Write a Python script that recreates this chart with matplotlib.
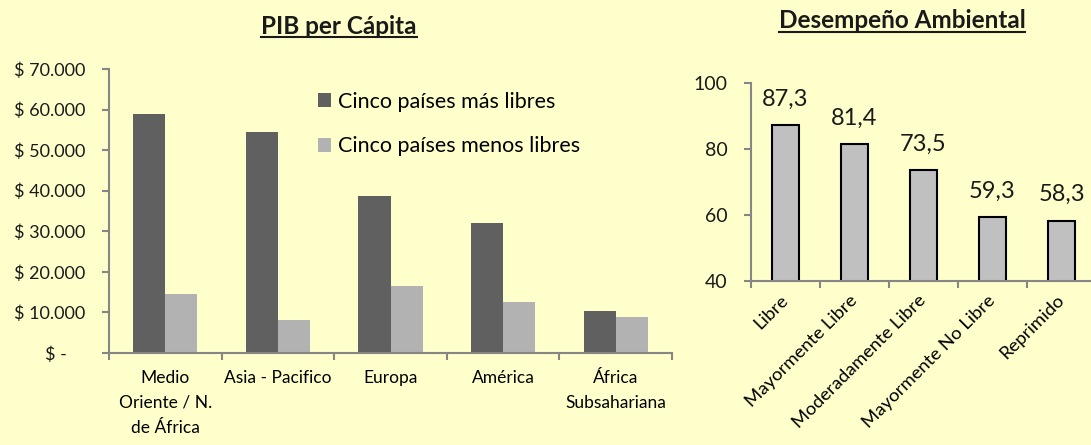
import matplotlib.pyplot as plt
import numpy as np

# --- data -----------------------------------------------------------------
regions = ["Medio\nOriente / N.\nde África", "Asia - Pacifico", "Europa",
           "América", "África\nSubsahariana"]
gdp_most_free = [59000, 54400, 38600, 32000, 10400]
gdp_least_free = [14600, 8200, 16500, 12500, 8900]
gdp_ticks = [0, 10000, 20000, 30000, 40000, 50000, 60000, 70000]
gdp_tick_labels = ["$ -    ", "$ 10.000", "$ 20.000", "$ 30.000", "$ 40.000",
                   "$ 50.000", "$ 60.000", "$ 70.000"]

freedom = ["Libre", "Mayormente Libre", "Moderadamente Libre",
           "Mayormente No Libre", "Reprimido"]
epi_score = [87.3, 81.4, 73.5, 59.3, 58.3]
epi_ticks = [40, 60, 80, 100]

# --- style ----------------------------------------------------------------
BG = "#FFFFCC"
DARK = "#606060"
LIGHT = "#B2B2B2"
EPI_FILL = "#C0C0C0"
AXIS = "#868686"
TEXT = "#1a1a1a"
plt.rcParams["font.family"] = ["Lato", "DejaVu Sans"]

W, H = 1091, 445
fig = plt.figure(figsize=(W / 100, H / 100), dpi=100)
fig.patch.set_facecolor(BG)


def px_axes(x0, y_top, x1, y_bot):
    return fig.add_axes([x0 / W, 1 - y_bot / H, (x1 - x0) / W, (y_bot - y_top) / H])


def style_axes(ax):
    ax.set_facecolor(BG)
    for s in ("top", "right"):
        ax.spines[s].set_visible(False)
    for s in ("left", "bottom"):
        ax.spines[s].set_color(AXIS)
        ax.spines[s].set_linewidth(1.5)
    ax.tick_params(axis="both", colors=AXIS, width=1.5, length=5, labelcolor=TEXT)


def title(xc, y_text, y_line, s):
    t = fig.text(xc / W, 1 - y_text / H, s, ha="center", va="center",
                 fontsize=17.5, fontweight="bold", color=TEXT)
    # underline spans the rendered text width
    bb = t.get_window_extent(renderer=fig.canvas.get_renderer())
    fig.add_artist(plt.Line2D([bb.x0 / W, bb.x1 / W], [1 - y_line / H, 1 - y_line / H],
                              color=TEXT, linewidth=1.5))


# --- left: PIB per cápita ---------------------------------------------------
ax1 = px_axes(109, 69, 672, 353)
style_axes(ax1)
x = np.arange(len(regions))
bw = 0.285
ax1.bar(x - bw / 2, gdp_most_free, bw, color=DARK, label="Cinco países más libres")
ax1.bar(x + bw / 2, gdp_least_free, bw, color=LIGHT, label="Cinco países menos libres")
ax1.set_xlim(-0.5, len(regions) - 0.5)
ax1.set_ylim(0, 70000)
ax1.set_yticks(gdp_ticks)
ax1.set_yticklabels(gdp_tick_labels, fontsize=13)
ax1.set_xticks(np.arange(len(regions) + 1) - 0.5)
ax1.set_xticklabels([])
ax1.tick_params(axis="y", pad=12)
ax1.set_xticks(x, minor=True)
ax1.set_xticklabels(regions, minor=True, fontsize=12.5, linespacing=1.7, va="top")
ax1.tick_params(axis="x", which="minor", length=0, pad=12)
ax1.legend(loc="upper left", bbox_to_anchor=(318 / W, 1 - 92 / H),
           bbox_transform=fig.transFigure, frameon=False, fontsize=15.5,
           handlelength=0.62, handleheight=0.62, handletextpad=0.3,
           labelspacing=1.12, borderpad=0, borderaxespad=0)
title(339, 26, 37, "PIB per Cápita")

# --- right: Desempeño Ambiental -----------------------------------------------
ax2 = px_axes(751, 82.7, 1090, 281)
style_axes(ax2)
x2 = np.arange(len(freedom))
bars = ax2.bar(x2, epi_score, 0.4, color=EPI_FILL, edgecolor="black", linewidth=1.5)
ax2.set_xlim(-0.5, len(freedom) - 0.5 - 6 / 69)
ax2.set_ylim(40, 100)
ax2.set_yticks(epi_ticks)
ax2.set_yticklabels([str(t) for t in epi_ticks], fontsize=14)
ax2.tick_params(axis="y", pad=12)
ax2.set_xticks(np.arange(len(freedom)) - 0.5)
ax2.set_xticklabels([])
ax2.set_xticks(x2, minor=True)
ax2.set_xticklabels(freedom, minor=True, rotation=45, ha="right", va="center",
                    rotation_mode="anchor", fontsize=13.3)
ax2.tick_params(axis="x", which="minor", length=0, pad=12)
ax2.bar_label(bars, labels=[f"{v:.1f}".replace(".", ",") for v in epi_score],
              padding=11, fontsize=17, color=TEXT)
title(902, 20, 32, "Desempeño Ambiental")

fig.savefig("out.png", dpi=100, facecolor=BG)
